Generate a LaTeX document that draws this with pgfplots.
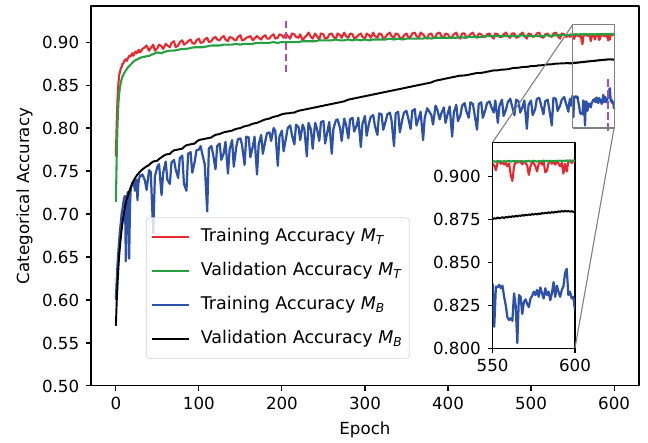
\documentclass[border=0pt]{standalone}
\usepackage{fontspec}
\setmainfont{DejaVu Sans}
\usepackage{pgfplots}
\usepackage{pgfplotstable}
\pgfplotsset{compat=1.18}

\definecolor{cRed}{HTML}{E8282D}
\definecolor{cGreen}{HTML}{25A040}
\definecolor{cBlue}{HTML}{2D50A8}
\definecolor{cMag}{RGB}{175,75,175}

% e: epoch, rt/vt: training/validation accuracy M_T, rb/vb: training/validation accuracy M_B
\pgfplotstableread{
e rt vt rb vb
0 .767 .714 .600 .570
1 .806 .766 .622 .598
2 .834 .804 .641 .618
3 .851 .828 .656 .637
4 .862 .840 .669 .652
5 .865 .848 .682 .663
6 .870 .853 .690 .673
7 .871 .857 .701 .682
8 .875 .860 .706 .690
9 .875 .862 .713 .697
10 .878 .864 .719 .703
11 .879 .8655 .721 .708
12 .880 .867 .645 .713
13 .878 .8685 .700 .717
14 .880 .870 .724 .720
15 .882 .871 .726 .723
16 .884 .872 .648 .726
17 .883 .873 .710 .7285
18 .884 .874 .731 .731
19 .886 .875 .733 .7335
20 .887 .876 .736 .736
21 .884 .877 .738 .738
22 .886 .878 .733 .740
23 .888 .8785 .727 .7415
24 .889 .879 .739 .743
25 .887 .8795 .740 .7445
26 .888 .880 .716 .746
27 .890 .8805 .735 .747
28 .891 .881 .741 .748
29 .888 .8815 .745 .749
30 .889 .882 .744 .750
32 .892 .8825 .746 .752
35 .894 .883 .739 .754
37 .896 .8835 .728 .7555
40 .890 .884 .751 .757
42 .893 .885 .749 .759
45 .897 .886 .678 .761
47 .890 .887 .744 .7615
50 .893 .888 .755 .762
52 .897 .8875 .758 .764
55 .895 .887 .722 .766
57 .892 .888 .748 .7675
60 .898 .889 .761 .769
62 .896 .8895 .740 .7695
65 .894 .890 .735 .770
67 .899 .890 .760 .772
70 .901 .890 .763 .774
72 .894 .8905 .752 .7745
75 .896 .891 .742 .775
77 .900 .8915 .765 .7755
80 .902 .892 .768 .776
82 .897 .892 .735 .778
85 .899 .892 .727 .780
87 .901 .8925 .770 .7805
90 .903 .893 .772 .781
92 .899 .8935 .748 .7815
95 .898 .894 .761 .782
97 .902 .894 .774 .784
100 .904 .894 .775 .786
102 .899 .894 .779 .7865
105 .900 .894 .766 .787
107 .903 .8945 .758 .7875
110 .905 .895 .703 .788
112 .900 .8955 .776 .7885
115 .901 .896 .779 .789
117 .904 .896 .770 .7905
120 .906 .896 .752 .792
122 .903 .896 .779 .7925
125 .902 .896 .782 .793
127 .905 .8965 .763 .794
130 .907 .897 .771 .795
132 .903 .897 .784 .7955
135 .901 .897 .747 .796
137 .906 .897 .775 .7965
140 .905 .897 .786 .797
142 .903 .8975 .755 .798
145 .902 .898 .778 .799
147 .906 .8975 .787 .7995
150 .908 .897 .788 .800
152 .902 .8975 .780 .801
155 .903 .898 .757 .802
157 .905 .898 .790 .8025
160 .906 .898 .789 .803
162 .907 .898 .766 .804
165 .902 .898 .779 .805
167 .904 .8985 .790 .8055
170 .907 .899 .746 .806
172 .905 .899 .781 .807
175 .903 .899 .792 .808
177 .906 .899 .770 .809
180 .908 .899 .785 .810
182 .904 .899 .794 .8105
185 .904 .899 .795 .811
187 .907 .8995 .785 .812
190 .909 .900 .800 .813
192 .904 .8995 .797 .8135
195 .905 .899 .756 .814
197 .909 .8995 .790 .815
200 .908 .900 .797 .816
202 .905 .900 .773 .8165
205 .910 .900 .789 .817
207 .907 .900 .800 .817
210 .904 .900 .803 .8175
212 .910 .900 .792 .8178
215 .909 .900 .781 .818
217 .906 .900 .804 .819
220 .905 .900 .801 .820
222 .909 .9005 .786 .8205
225 .902 .901 .804 .821
227 .905 .901 .799 .8215
230 .908 .901 .767 .822
232 .911 .901 .806 .8225
235 .906 .901 .798 .823
237 .904 .901 .776 .8235
240 .910 .901 .806 .824
242 .907 .9015 .800 .8245
245 .903 .902 .785 .825
247 .910 .902 .807 .8255
250 .909 .902 .808 .826
252 .904 .902 .782 .8265
255 .905 .902 .797 .827
257 .909 .902 .807 .8275
260 .910 .902 .770 .828
262 .906 .9025 .799 .8285
265 .904 .903 .809 .829
267 .910 .9025 .810 .8295
270 .908 .902 .800 .830
272 .905 .902 .785 .8305
275 .911 .902 .811 .831
277 .907 .9025 .805 .832
280 .905 .903 .788 .833
282 .910 .9025 .810 .8335
285 .909 .902 .812 .834
287 .904 .9025 .796 .8345
290 .906 .903 .803 .835
292 .908 .9025 .812 .8355
295 .910 .902 .778 .836
297 .906 .9025 .805 .8365
300 .904 .903 .814 .837
302 .910 .9025 .791 .8375
305 .908 .902 .806 .838
307 .905 .9025 .813 .8385
310 .911 .903 .815 .839
312 .907 .903 .802 .8395
315 .905 .903 .792 .840
317 .910 .903 .817 .8405
320 .909 .903 .816 .841
322 .904 .903 .798 .8415
325 .906 .903 .808 .842
327 .909 .9035 .816 .8425
330 .911 .904 .818 .843
332 .907 .9035 .809 .8435
335 .905 .903 .779 .844
337 .910 .9035 .817 .8445
340 .909 .904 .819 .845
342 .905 .9035 .795 .8455
345 .904 .903 .810 .846
347 .908 .9035 .818 .8465
350 .910 .904 .820 .847
352 .906 .904 .812 .8475
355 .906 .904 .799 .848
357 .910 .904 .820 .8485
360 .911 .904 .822 .849
362 .907 .904 .803 .8495
365 .905 .904 .812 .850
367 .911 .904 .819 .8505
370 .909 .904 .786 .851
372 .906 .9045 .812 .8515
375 .904 .905 .823 .852
377 .909 .9045 .820 .8525
380 .910 .904 .815 .853
382 .905 .9045 .804 .854
385 .906 .905 .826 .855
387 .910 .905 .822 .8555
390 .911 .905 .810 .856
392 .907 .905 .817 .8565
395 .905 .905 .824 .857
397 .910 .905 .806 .8575
400 .909 .905 .818 .858
402 .905 .905 .825 .8585
405 .906 .905 .790 .859
407 .909 .905 .818 .8595
410 .911 .905 .827 .860
412 .906 .9055 .808 .8605
415 .904 .906 .815 .861
417 .910 .9055 .826 .861
420 .910 .905 .829 .8612
422 .905 .9055 .820 .8615
425 .907 .906 .812 .862
427 .909 .906 .830 .8625
430 .911 .906 .828 .863
432 .907 .906 .816 .8635
435 .905 .906 .798 .864
437 .910 .906 .828 .864
440 .909 .906 .830 .8642
442 .906 .9065 .812 .8645
445 .906 .907 .821 .865
447 .909 .907 .829 .8655
450 .910 .907 .831 .866
452 .907 .907 .825 .8665
455 .904 .907 .818 .867
457 .910 .907 .832 .867
460 .909 .907 .806 .8672
462 .906 .907 .826 .8675
465 .906 .907 .833 .868
467 .909 .907 .814 .868
470 .911 .907 .822 .8682
472 .907 .907 .830 .8685
475 .905 .907 .834 .869
477 .910 .907 .826 .8695
480 .910 .907 .815 .870
482 .905 .907 .833 .870
485 .906 .907 .831 .8702
487 .909 .9075 .818 .8705
490 .911 .908 .825 .871
492 .907 .9075 .832 .871
495 .904 .907 .799 .8712
497 .910 .907 .827 .8715
500 .909 .907 .832 .872
502 .906 .907 .815 .872
505 .907 .907 .822 .8722
507 .910 .907 .834 .8725
510 .911 .907 .835 .873
512 .906 .907 .827 .873
515 .905 .907 .816 .8732
517 .909 .9075 .831 .8735
520 .910 .908 .833 .874
522 .907 .9075 .822 .874
525 .906 .907 .803 .8742
527 .910 .9075 .835 .8745
530 .911 .908 .834 .875
532 .907 .908 .820 .875
535 .904 .908 .826 .8751
537 .910 .908 .833 .8752
540 .909 .908 .836 .8753
542 .906 .908 .829 .8755
545 .907 .908 .819 .8756
546 .908 .908 .829 .8752
547 .906 .908 .834 .8756
548 .909 .9085 .826 .8749
549 .907 .9088 .831 .8755
550 .9075 .9088 .8377 .8753
551 .9065 .9090 .8126 .8758
552 .9037 .9086 .8360 .8755
553 .9080 .9092 .8355 .8762
554 .9090 .9088 .8370 .8757
555 .9075 .9090 .8350 .8760
556 .9085 .9087 .8365 .8764
557 .9070 .9091 .8300 .8759
558 .9082 .9088 .8250 .8765
559 .9060 .9090 .8180 .8762
560 .9078 .9092 .8165 .8768
561 .9010 .9088 .8175 .8764
562 .8975 .9090 .8160 .8770
563 .9060 .9092 .8320 .8766
564 .9088 .9089 .8250 .8772
565 .9080 .9091 .8030 .8768
566 .9090 .9088 .8310 .8774
567 .9085 .9092 .8300 .8771
568 .9072 .9090 .8200 .8776
569 .9088 .9087 .8270 .8773
570 .9080 .9091 .8285 .8778
571 .9065 .9089 .8260 .8775
572 .9010 .9092 .8240 .8780
573 .9060 .9088 .8290 .8777
574 .9085 .9090 .8305 .8782
575 .9078 .9093 .8330 .8779
576 .9060 .9090 .8310 .8784
577 .9030 .9088 .8340 .8780
578 .9075 .9092 .8300 .8786
579 .9088 .9089 .8355 .8782
580 .9070 .9091 .8320 .8788
581 .9085 .9094 .8290 .8785
582 .9025 .9090 .8350 .8790
583 .9035 .9092 .8310 .8787
584 .9080 .9089 .8330 .8792
585 .9090 .9093 .8280 .8789
586 .9075 .9090 .8320 .8794
587 .9088 .9092 .8386 .8790
588 .9070 .9089 .8300 .8796
589 .9085 .9093 .8365 .8792
590 .9078 .9091 .8330 .8798
591 .9060 .9094 .8300 .8795
592 .9080 .9090 .8340 .8800
593 .9018 .9093 .8360 .8796
594 .9075 .9091 .8440 .8801
595 .9030 .9095 .8463 .8797
596 .9088 .9092 .8310 .8800
597 .9095 .9094 .8330 .8796
598 .9080 .9091 .8290 .8799
599 .9092 .9095 .8300 .8795
600 .9085 .9093 .8222 .8797
}\acc

\pgfplotsset{
  accstyle/.style={
    scale only axis,
    enlargelimits=false,
    tick pos=left,
    tick align=outside,
    major tick length=3.5pt,
    every tick/.style={black, line width=0.8pt},
    axis line style={line width=0.8pt},
    /pgf/number format/assume math mode=true,
    tick label style={font=\fontsize{12}{14}\selectfont},
    xticklabel style={anchor=north, inner sep=0pt, yshift=-4.2pt},
    yticklabel style={anchor=east, inner sep=0pt, xshift=-4.8pt},
    line join=round,
  },
}

\begin{document}
\begin{tikzpicture}
\path[use as bounding box] (-65.5pt,-41pt) rectangle (401.1pt,277.9pt);
\begin{axis}[
  accstyle,
  at={(0,0)}, anchor=south west,
  width=394.6pt, height=273.6pt,
  xmin=-30, xmax=630,
  ymin=0.5, ymax=0.942,
  xtick={0,100,200,300,400,500,600},
  ytick={0.5,0.55,0.6,0.65,0.7,0.75,0.8,0.85,0.9},
  yticklabel style={/pgf/number format/.cd, fixed, fixed zerofill, precision=2},
  xlabel={Epoch},
  ylabel={Categorical Accuracy},
  every axis x label/.style={at={(axis description cs:0.5,0)}, anchor=base, yshift=-35.3pt, font=\fontsize{12}{14}\selectfont},
  every axis y label/.style={at={(axis description cs:-0.1214,0.5)}, anchor=center, rotate=90, font=\fontsize{12}{14}\selectfont},
  legend style={
    at={(axis description cs:0.1004,0.0711)}, anchor=south west,
    draw=black!18, rounded corners=2.5pt, fill=white, fill opacity=0.8, text opacity=1,
    font=\fontsize{12.6}{14}\selectfont,
    inner xsep=3pt, inner ysep=6.2pt,
    row sep=8.9pt, column sep=6pt,
    nodes={inner sep=2pt, text height=9pt, text depth=2.6pt},
  },
  legend cell align=left,
  legend image code/.code={\draw[#1] (0pt,0pt) -- (26.7pt,0pt);},
]
\addplot[cRed, line width=1.5pt] table[x=e, y=rt]{\acc};
\addlegendentry{Training Accuracy \textit{M}\textsubscript{\textit{T}}}
\addplot[cGreen, line width=1.5pt] table[x=e, y=vt]{\acc};
\addlegendentry{Validation Accuracy \textit{M}\textsubscript{\textit{T}}}
\addplot[cBlue, line width=1.6pt] table[x=e, y=rb]{\acc};
\addlegendentry{Training Accuracy \textit{M}\textsubscript{\textit{B}}}
\addplot[black, line width=1.4pt] table[x=e, y=vb]{\acc};
\addlegendentry{Validation Accuracy \textit{M}\textsubscript{\textit{B}}}

\addplot[forget plot, cMag, line width=1.5pt, dash pattern=on 5.5pt off 2.4pt] coordinates {(205,0.865) (205,0.925)};
\addplot[forget plot, cMag, line width=1.5pt, dash pattern=on 5.5pt off 2.4pt] coordinates {(593,0.797) (593,0.857)};
\addplot[forget plot, gray, line width=0.8pt] coordinates {(550,0.80) (600,0.80) (600,0.92) (550,0.92) (550,0.80)};
\coordinate (zTL) at (axis cs:550,0.92);
\coordinate (zBR) at (axis cs:600,0.80);
\end{axis}

\begin{axis}[
  accstyle,
  at={(289.2pt,27.1pt)}, anchor=south west,
  width=59.3pt, height=148.3pt,
  xmin=550, xmax=600,
  ymin=0.8, ymax=0.92,
  xtick={550,600},
  ytick={0.8,0.825,0.85,0.875,0.9},
  yticklabel style={/pgf/number format/.cd, fixed, fixed zerofill, precision=3},
  xticklabel style={/pgf/number format/.cd, fixed, precision=0},
  axis background/.style={fill=white},
]
\addplot[cRed, line width=1.5pt] table[x=e, y=rt]{\acc};
\addplot[cGreen, line width=1.5pt] table[x=e, y=vt]{\acc};
\addplot[cBlue, line width=1.6pt] table[x=e, y=rb]{\acc};
\addplot[black, line width=1.4pt] table[x=e, y=vb]{\acc};
\coordinate (iTL) at (rel axis cs:0,1);
\coordinate (iBR) at (rel axis cs:1,0);
\end{axis}

\draw[gray, line width=0.8pt] (zTL) -- (iTL);
\draw[gray, line width=0.8pt] (zBR) -- (iBR);
\end{tikzpicture}
\end{document}
